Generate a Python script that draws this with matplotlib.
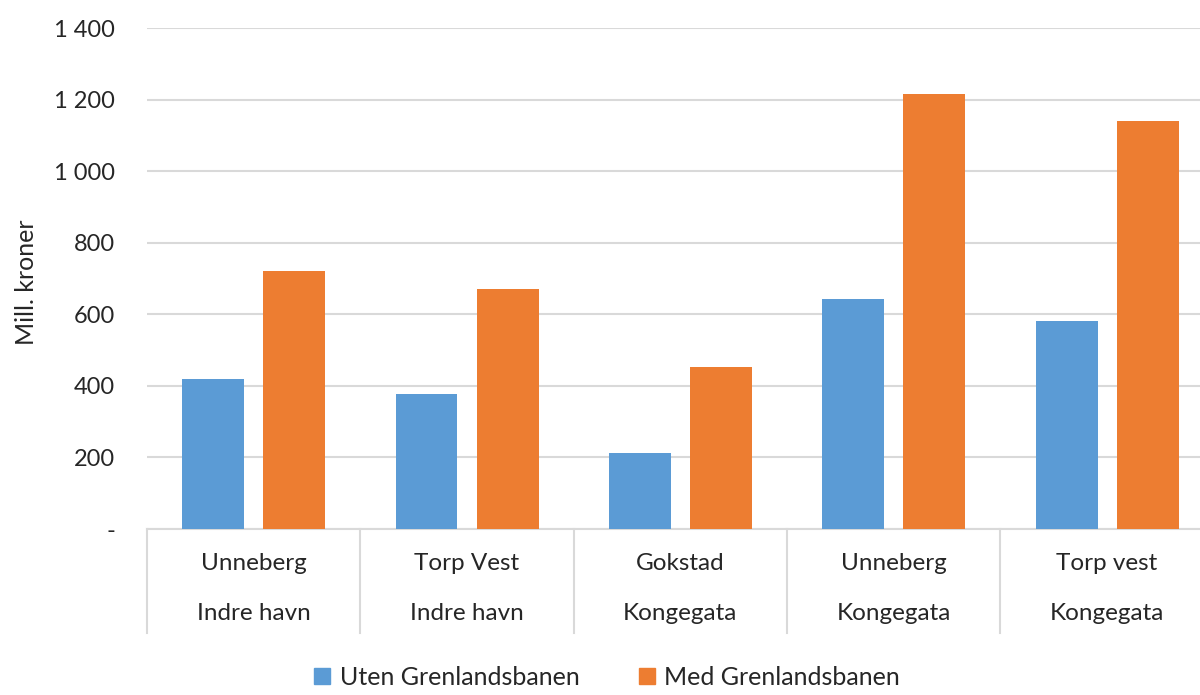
import numpy as np
import matplotlib.pyplot as plt
from matplotlib.lines import Line2D
from matplotlib.ticker import FuncFormatter

plt.rcParams['font.family'] = ['Lato', 'DejaVu Sans']

stations = ['Unneberg', 'Torp Vest', 'Gokstad', 'Unneberg', 'Torp vest']
terminals = ['Indre havn', 'Indre havn', 'Kongegata', 'Kongegata', 'Kongegata']
uten = [420, 376, 212, 644, 581]
med = [720, 670, 452, 1216, 1139]
series_names = ['Uten Grenlandsbanen', 'Med Grenlandsbanen']

blue = '#5B9BD5'
orange = '#ED7D31'
grid_col = '#D9D9D9'
text_col = '#262626'

fig = plt.figure(figsize=(12, 6.95), dpi=100)
ax = fig.add_axes([0.1225, 0.2388, 0.889, 0.7209])

x = np.arange(len(stations))
w = 0.29
ax.bar(x - 0.19, uten, w, color=blue, zorder=3)
ax.bar(x + 0.19, med, w, color=orange, zorder=3)

ax.set_xlim(-0.5, len(stations) - 0.5)
ax.set_ylim(0, 1400)
ax.set_yticks(range(0, 1401, 200))


def fmt(v, pos):
    if v == 0:
        return '-'
    return f'{int(v):,}'.replace(',', ' ')


ax.yaxis.set_major_formatter(FuncFormatter(fmt))
ax.tick_params(axis='y', length=0, pad=23, labelsize=17, labelcolor=text_col)
ax.set_xticks([])
ax.grid(axis='y', color=grid_col, linewidth=1.5, zorder=0)
for s in ['top', 'right', 'left']:
    ax.spines[s].set_visible(False)
ax.spines['bottom'].set_color(grid_col)
ax.spines['bottom'].set_linewidth(1.5)

fig.text(26 / 1200, 1 - 282 / 695, 'Mill. kroner', rotation=90, ha='center',
         va='center', fontsize=18, color=text_col)

# two-level category axis with separators
trans = ax.get_xaxis_transform()
for i in range(len(stations)):
    ax.text(x[i], -0.068, stations[i], transform=trans, ha='center', va='center',
            fontsize=17.5, color=text_col)
    ax.text(x[i], -0.168, terminals[i], transform=trans, ha='center', va='center',
            fontsize=17.5, color=text_col)
for b in np.arange(len(stations) + 1) - 0.5:
    ax.plot([b, b], [0, -0.208], transform=trans, color=grid_col, linewidth=1.5,
            clip_on=False)

handles = [Line2D([], [], marker='s', linestyle='none', markersize=11, color=c)
           for c in [blue, orange]]
fig.legend(handles, series_names, loc='lower center', bbox_to_anchor=(0.505, -0.024),
           ncol=2, frameon=False, fontsize=18, handlelength=0.8, handletextpad=0.3,
           columnspacing=2.3, labelcolor=text_col)

fig.savefig('out.png', dpi=100, facecolor='white')
